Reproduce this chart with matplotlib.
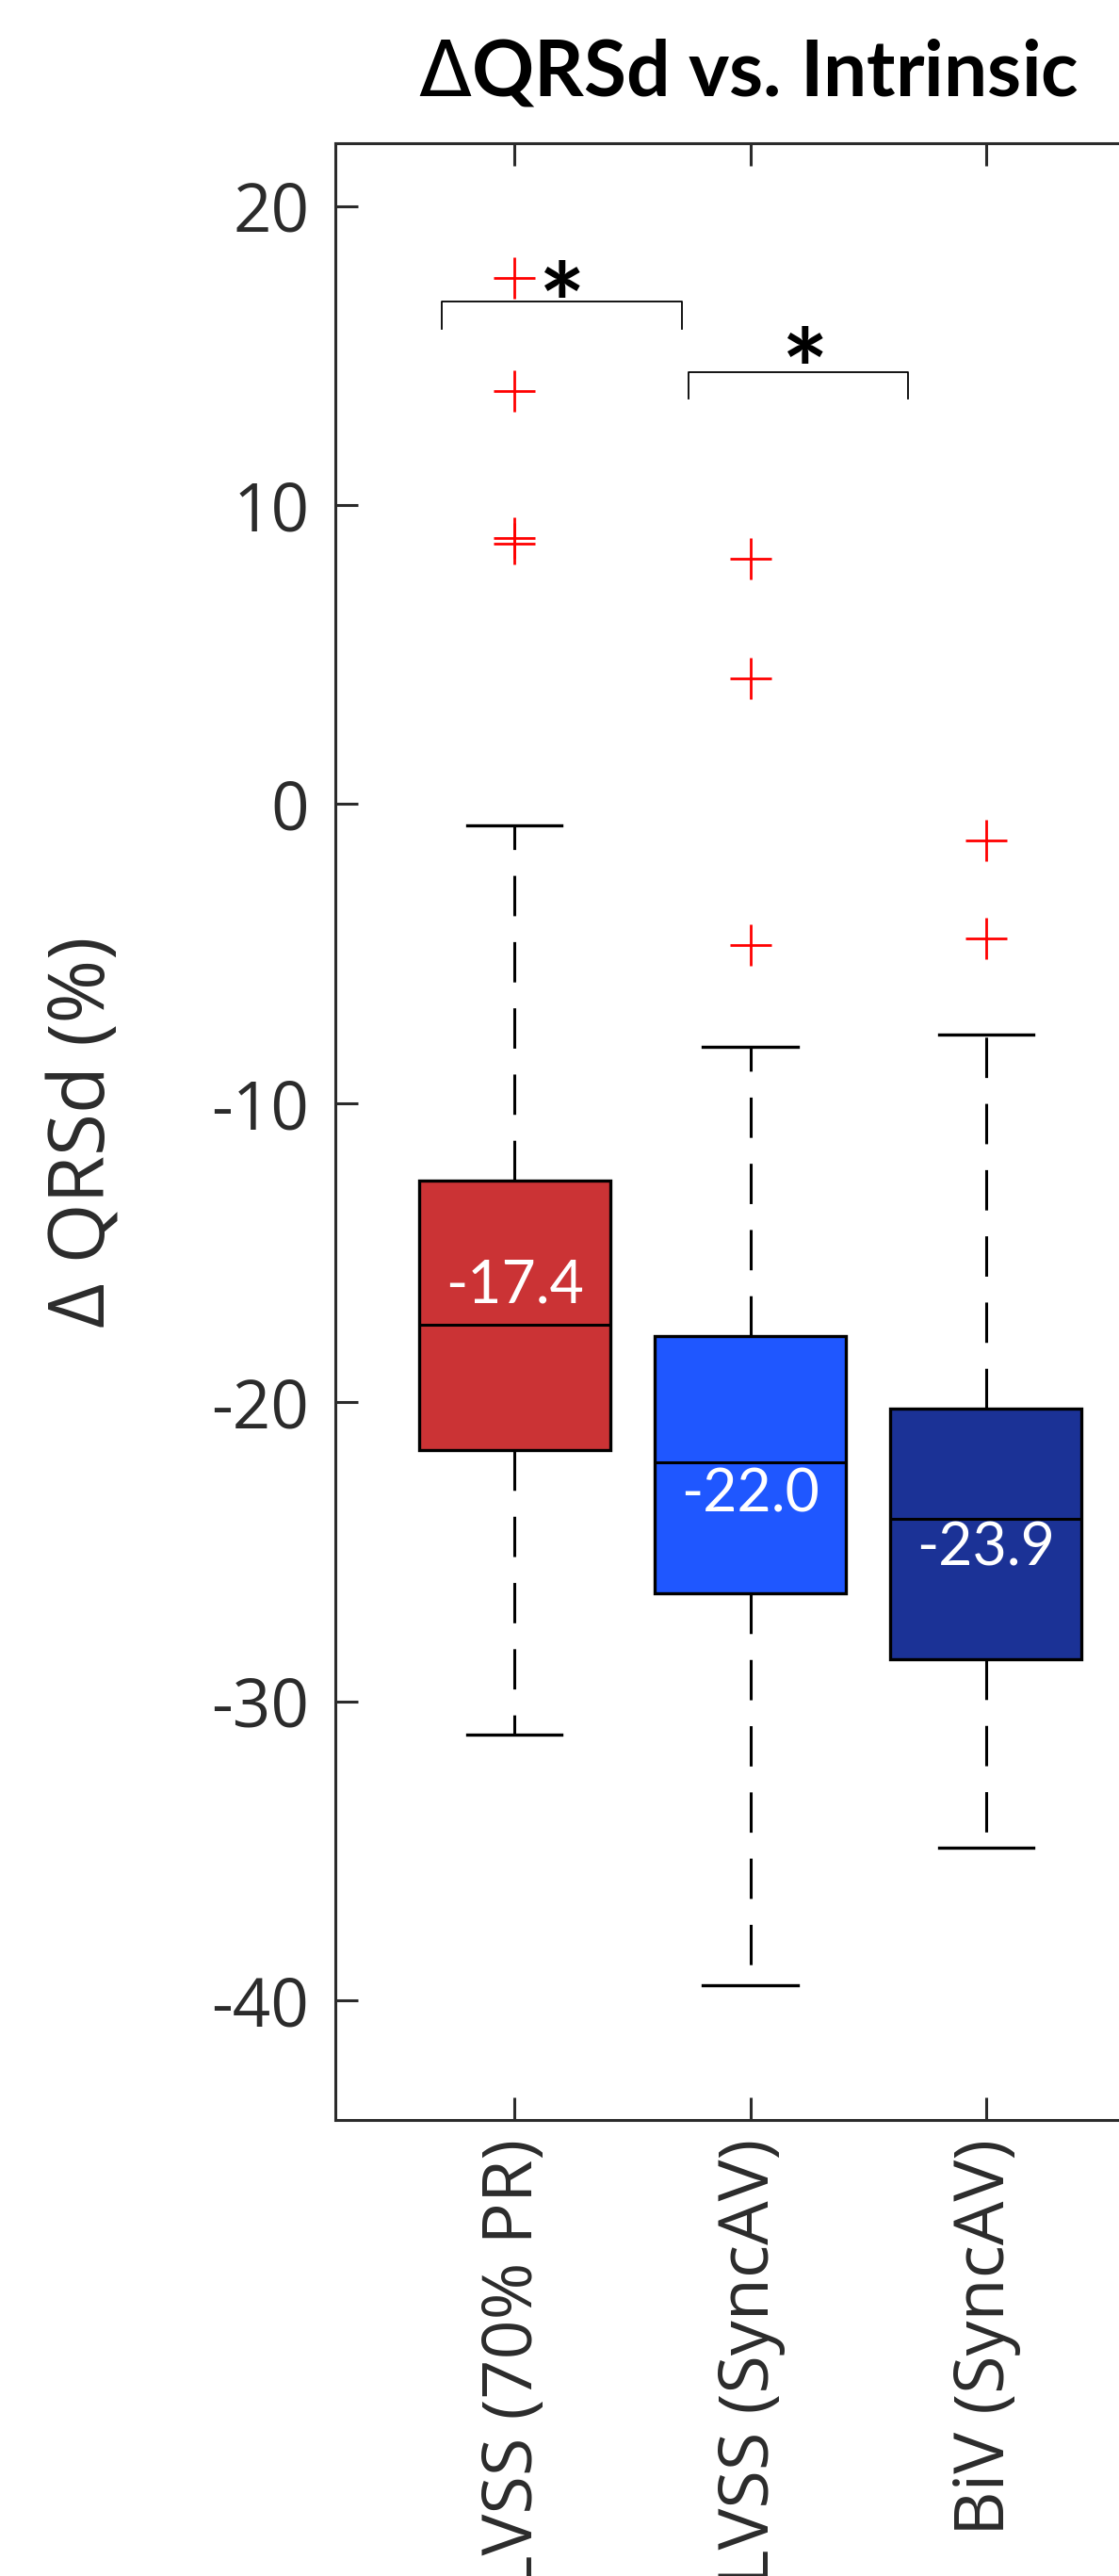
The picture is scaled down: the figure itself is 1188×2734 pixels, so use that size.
import matplotlib
matplotlib.use("Agg")
import matplotlib.pyplot as plt

plt.rcParams["axes.unicode_minus"] = False
plt.rcParams["mathtext.fontset"] = "dejavusans"

# box stats (percent change in QRSd)
groups = ["LVSS (70% PR)", "LVSS (SyncAV)", "BiV (SyncAV)"]
medians = [-17.4, -22.0, -23.9]
q1 = [-21.6, -26.4, -28.6]
q3 = [-12.6, -17.8, -20.2]
whis_lo = [-31.1, -39.5, -34.9]
whis_hi = [-0.7, -8.1, -7.7]
outliers = [[17.6, 13.8, 8.9, 8.7], [8.2, 4.2, -4.7], [-1.2, -4.5]]
label_offsets = [1.3, -1.1, -1.0]
box_colors = ["#CB3335", "#1F57FF", "#1B3296"]

# significance brackets: (x left, x right, y top) and star spots
brackets = [(0.69, 1.71, 16.8), (1.74, 2.67, 14.45)]
stars = [(1.20, 15.4), (2.23, 13.2)]

TXT = "#2b2b2b"
tick_font = ["Open Sans", "DejaVu Sans"]
calibri = ["Lato", "DejaVu Sans"]

fig = plt.figure(figsize=(11.88, 27.34), dpi=100)
ax = fig.add_axes([0.2997, 0.177, 0.7416, 0.7674])

stats = []
for i in range(len(groups)):
    stats.append({
        "med": medians[i], "q1": q1[i], "q3": q3[i],
        "whislo": whis_lo[i], "whishi": whis_hi[i],
        "fliers": outliers[i], "label": groups[i],
    })

pos = [1, 2, 3]
bp = ax.bxp(stats, positions=pos, widths=0.81, patch_artist=True,
            capwidths=0.4,
            boxprops=dict(edgecolor="black", linewidth=2.4),
            medianprops=dict(color="black", linewidth=2.2),
            whiskerprops=dict(color="black", linewidth=2.2, linestyle=(0, (14, 9))),
            capprops=dict(color="black", linewidth=2.4),
            flierprops=dict(marker="+", markeredgecolor="red", markersize=31,
                            markeredgewidth=2.0, linestyle="none"))
for patch, c in zip(bp["boxes"], box_colors):
    patch.set_facecolor(c)

for i in range(len(groups)):
    ax.text(pos[i], medians[i] + label_offsets[i], f"{medians[i]:.1f}",
            ha="center", va="center", color="white", fontsize=45,
            family=calibri)

for x0, x1, yt in brackets:
    ax.plot([x0, x0, x1, x1], [yt - 0.9, yt, yt, yt - 0.9],
            color="black", linewidth=1.3)
for sx, sy in stars:
    ax.text(sx, sy, "*", ha="center", va="baseline", fontsize=84,
            fontweight="bold", family=calibri)

ax.set_xlim(0.24, 3.76)
ax.set_ylim(-44.0, 22.1)
ax.set_yticks([20, 10, 0, -10, -20, -30, -40])
ax.set_xticks(pos)
ax.set_xticklabels(groups, rotation=90, family=tick_font, fontsize=53, color=TXT)
for lab in ax.get_yticklabels():
    lab.set_family(tick_font)
ax.tick_params(axis="y", direction="in", length=17, width=2.2, labelsize=51,
               labelcolor=TXT, color=TXT, pad=20)
ax.tick_params(axis="x", direction="in", length=17, width=2.2, top=True,
               color=TXT, pad=14)
for side in ["left", "bottom", "top", "right"]:
    ax.spines[side].set_linewidth(2.2)
    ax.spines[side].set_color(TXT)

ax.set_ylabel("\u0394 QRSd (%)", fontsize=59, family=tick_font, color=TXT)
ax.yaxis.set_label_coords(-0.255, 0.5)

fig.text(0.669, 0.9715, r"$\Delta$QRSd vs. Intrinsic", ha="center", va="center",
         fontsize=59, fontweight="bold", family=calibri)

fig.savefig("out.png", dpi=100)
